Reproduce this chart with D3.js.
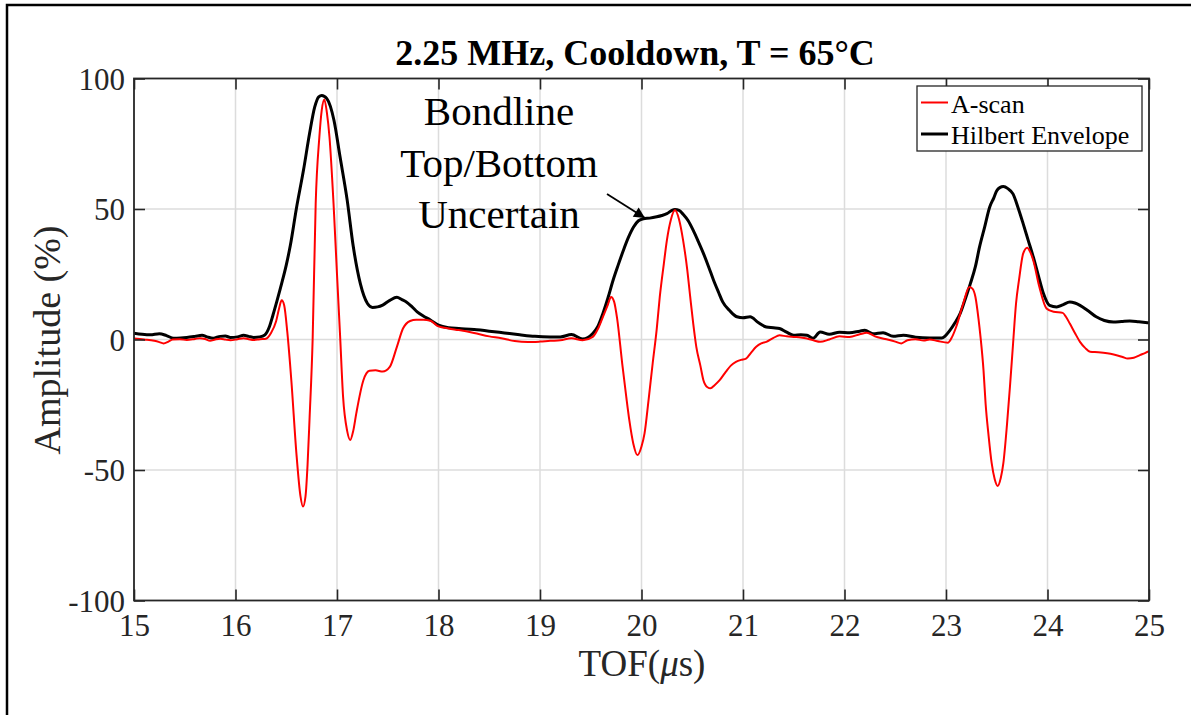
<!DOCTYPE html>
<html>
<head>
<meta charset="utf-8">
<script src="https://cdn.jsdelivr.net/npm/d3@7/dist/d3.min.js"></script>
<style>
  html, body { margin: 0; padding: 0; background: #fff; }
  svg { display: block; }
  text { font-family: "Liberation Serif", "Times New Roman", serif; }
</style>
</head>
<body>
<svg id="chart" width="1191" height="715"></svg>
<script>
// Time of flight (µs) and amplitude (%) for the Hilbert envelope
const envT = [15.00,15.08,15.16,15.25,15.32,15.39,15.46,15.52,15.60,15.67,15.72,15.78,15.85,15.90,15.95,16.02,16.08,16.13,16.18,16.24,16.29,16.33,16.37,16.41,16.455,16.50,16.54,16.60,16.67,16.73,16.78,16.82,16.85,16.90,16.97,17.03,17.10,17.16,17.23,17.30,17.35,17.40,17.45,17.52,17.59,17.64,17.68,17.74,17.79,17.85,17.92,18.00,18.10,18.20,18.35,18.50,18.65,18.80,18.95,19.10,19.20,19.31,19.42,19.52,19.57,19.62,19.67,19.72,19.77,19.82,19.87,19.92,19.97,20.02,20.08,20.15,20.20,20.25,20.30,20.33,20.37,20.41,20.46,20.51,20.56,20.61,20.66,20.71,20.76,20.80,20.87,20.94,21.00,21.07,21.15,21.23,21.30,21.36,21.43,21.50,21.57,21.63,21.69,21.76,21.85,21.95,22.05,22.15,22.20,22.28,22.38,22.48,22.58,22.70,22.84,22.96,23.04,23.09,23.14,23.19,23.24,23.29,23.33,23.38,23.43,23.47,23.50,23.53,23.565,23.61,23.66,23.71,23.76,23.81,23.86,23.91,23.96,24.02,24.09,24.15,24.22,24.27,24.32,24.40,24.48,24.56,24.65,24.73,24.81,24.90,25.00];
const envV = [2.4,2.0,1.8,2.2,1.5,0.5,0.6,0.8,1.2,1.6,1.0,0.5,1.2,1.3,0.8,1.0,1.6,1.2,0.8,1.0,1.8,4.5,9.5,15,21.5,28.5,36,50.2,64.9,79,89,93,93.5,92.3,84,70,53.5,35.7,21.4,13.8,12.3,12.5,13.2,15,16.2,15.3,14.5,12.5,10.6,9,7.5,5.5,4.5,4.2,3.8,3.2,2.5,1.8,1.2,1.0,1.0,1.9,0.2,2.3,5,10,16,22.7,28.5,34,39,43,45.5,46.3,46.5,47,47.5,48.2,49.5,49.8,49.5,48,45.5,41.8,37.5,33,28,22.7,18,14.4,11,8.7,8.3,8.7,6.5,4.8,4.5,4.2,2.8,1.6,1.8,1.6,0.5,2.9,2.0,2.8,2.6,3.2,3.5,2.2,2.6,1.2,1.6,0.9,0.6,0.6,3.6,6.5,10,15.5,21.4,28,35.4,43,50.7,54.2,57.0,58.2,58.6,57.8,55.8,50.5,44.4,38,31.6,24.5,17.6,13.1,12.5,13.3,14.4,14.0,13.1,11,8.7,7.3,6.7,6.9,7.1,6.8,6.4];

// Time of flight (µs) and amplitude (%) for the raw A-scan
const scanT = [15.00,15.10,15.20,15.25,15.29,15.34,15.38,15.45,15.52,15.60,15.65,15.70,15.75,15.80,15.85,15.90,15.95,16.02,16.08,16.13,16.18,16.24,16.30,16.35,16.40,16.43,16.455,16.48,16.51,16.55,16.60,16.64,16.665,16.69,16.71,16.73,16.76,16.79,16.826,16.85,16.875,16.90,16.926,16.966,17.00,17.031,17.06,17.10,17.13,17.16,17.19,17.26,17.32,17.38,17.45,17.52,17.59,17.65,17.72,17.78,17.85,17.92,18.00,18.10,18.20,18.35,18.50,18.62,18.75,18.88,19.00,19.10,19.20,19.31,19.42,19.52,19.57,19.62,19.67,19.70,19.73,19.76,19.81,19.85,19.88,19.92,19.96,20.00,20.03,20.07,20.11,20.15,20.18,20.22,20.25,20.29,20.33,20.37,20.41,20.45,20.48,20.51,20.54,20.58,20.61,20.65,20.68,20.72,20.77,20.83,20.88,20.93,20.98,21.03,21.08,21.13,21.18,21.23,21.30,21.36,21.43,21.50,21.57,21.63,21.70,21.76,21.85,21.95,22.05,22.15,22.22,22.30,22.40,22.50,22.56,22.62,22.70,22.78,22.84,22.92,23.02,23.06,23.10,23.17,23.23,23.26,23.29,23.32,23.34,23.37,23.39,23.42,23.45,23.48,23.51,23.54,23.565,23.60,23.63,23.66,23.69,23.72,23.76,23.80,23.83,23.86,23.92,23.99,24.06,24.15,24.18,24.22,24.27,24.32,24.37,24.42,24.50,24.55,24.62,24.68,24.74,24.79,24.85,24.91,24.96,25.00];
const scanV = [0.4,0.0,-0.5,-1.0,-1.5,-0.8,0.0,0.1,-0.2,0.2,0.5,0.2,-0.5,0.0,0.3,0.0,-0.3,0.1,0.5,0.1,-0.2,0.1,0.3,2.5,7,12,15,13,3,-15.6,-43.6,-60,-64,-60,-48,-30,0,52,77.5,88,92,87,77.5,52,25,1,-22,-35,-38.5,-35,-28.3,-15.6,-12,-11.8,-12.3,-10.5,-2.8,4.2,7.1,7.6,7.6,7.2,5,4.2,3.6,2.5,1.2,0.5,-0.6,-1.0,-0.8,-0.5,-0.3,0.5,-0.3,1.0,4,8.7,13.5,16.3,14.5,8,-9.2,-22,-30.9,-40,-44.3,-41,-36,-23,-9.2,4,16.3,29,38,46,49.5,46,38,27,16.3,6,-2.8,-10,-15.6,-18.3,-18.7,-17.5,-15.6,-12.4,-10,-8.6,-7.8,-7.3,-5,-2.8,-1.5,-0.9,0.6,1.6,1.2,1.0,0.8,0.4,-0.4,-0.9,0,1.2,1.0,2.0,2.6,1.2,0.2,-0.8,-1.5,-0.3,0.1,-0.4,0.0,-0.6,-1.2,1,4.8,13.8,20.1,19.5,16.3,8,1,-12,-24.5,-37,-47.4,-53.5,-56.1,-53,-47.4,-33,-18.1,-2,13.8,23,32.9,35.2,33.5,30.3,20.1,11.9,10.6,10.2,8.8,6.1,2.5,-0.9,-3.2,-4.7,-4.9,-5.1,-5.5,-6.0,-6.7,-7.3,-7.0,-6.0,-5.2,-4.5];

const xTicks = [15,16,17,18,19,20,21,22,23,24,25];
const yTicks = [-100,-50,0,50,100];
const titleText = "2.25 MHz, Cooldown, T = 65°C";
const legendLabels = ["A-scan", "Hilbert Envelope"];
const noteLines = ["Bondline", "Top/Bottom", "Uncertain"];

const svg = d3.select("#chart");
const W = 1191, H = 715;
const plotL = 134, plotR = 1149, plotT = 78.5, plotB = 600.5;

const axisColor = "#262626";
const x = d3.scaleLinear().domain([15, 25]).range([plotL, plotR]);
const y = d3.scaleLinear().domain([-100, 100]).range([plotB, plotT]);

// outer figure frame (only top and left edges fall inside the canvas)
svg.append("rect").attr("x", 7).attr("y", 5).attr("width", W + 20).attr("height", H + 20)
  .attr("fill", "#fff").attr("stroke", "#000").attr("stroke-width", 2.5);

// grid
const grid = svg.append("g").attr("stroke", "#dcdcdc").attr("stroke-width", 1.5);
xTicks.slice(1, -1).forEach(t => grid.append("line")
  .attr("x1", x(t)).attr("x2", x(t)).attr("y1", plotT).attr("y2", plotB));
yTicks.slice(1, -1).forEach(t => grid.append("line")
  .attr("x1", plotL).attr("x2", plotR).attr("y1", y(t)).attr("y2", y(t)));

// curves
const defs = svg.append("defs");
defs.append("clipPath").attr("id", "plotClip")
  .append("rect").attr("x", plotL).attr("y", plotT).attr("width", plotR - plotL).attr("height", plotB - plotT);

const line = d3.line().x(d => x(d[0])).y(d => y(d[1])).curve(d3.curveMonotoneX);
const plot = svg.append("g").attr("clip-path", "url(#plotClip)");
plot.append("path").datum(envT.map((t, i) => [t, envV[i]]))
  .attr("d", line).attr("fill", "none").attr("stroke", "#000").attr("stroke-width", 3)
  .attr("stroke-linejoin", "round");
plot.append("path").datum(scanT.map((t, i) => [t, scanV[i]]))
  .attr("d", line).attr("fill", "none").attr("stroke", "#ff0000").attr("stroke-width", 2)
  .attr("stroke-linejoin", "round");

// axes: ticks inward on all four sides, labels on bottom and left
const tickLen = 11;
const fmt = d => String(d);   // plain hyphen-minus for negative values
const axB = svg.append("g").attr("transform", `translate(0,${plotB})`)
  .call(d3.axisBottom(x).tickValues(xTicks).tickSize(-tickLen).tickPadding(13).tickFormat(fmt));
const axT = svg.append("g").attr("transform", `translate(0,${plotT})`)
  .call(d3.axisTop(x).tickValues(xTicks).tickSize(-tickLen).tickFormat(""));
const axL = svg.append("g").attr("transform", `translate(${plotL},0)`)
  .call(d3.axisLeft(y).tickValues(yTicks).tickSize(-tickLen).tickPadding(9).tickFormat(fmt));
const axR = svg.append("g").attr("transform", `translate(${plotR},0)`)
  .call(d3.axisRight(y).tickValues(yTicks).tickSize(-tickLen).tickFormat(""));
[axB, axT, axL, axR].forEach(a => {
  a.select(".domain").remove();
  a.selectAll(".tick line").attr("stroke", axisColor).attr("stroke-width", 1.6);
  a.selectAll(".tick text").attr("fill", axisColor)
    .style("font-family", '"Liberation Serif", serif').style("font-size", "31px");
});
axB.selectAll(".tick text").attr("dy", "0.71em");
axL.selectAll(".tick text").attr("dy", "0.34em");

svg.append("rect").attr("x", plotL).attr("y", plotT).attr("width", plotR - plotL).attr("height", plotB - plotT)
  .attr("fill", "none").attr("stroke", axisColor).attr("stroke-width", 1.8);

// title and axis labels
svg.append("text").attr("x", 635).attr("y", 65).attr("text-anchor", "middle")
  .attr("font-weight", "bold").attr("font-size", 36).attr("fill", "#000").text(titleText);

const xl = svg.append("text").attr("x", 642).attr("y", 676).attr("text-anchor", "middle")
  .attr("font-size", 37).attr("fill", axisColor);
xl.append("tspan").text("TOF(");
xl.append("tspan").attr("font-style", "italic").text("\u03bc");
xl.append("tspan").text("s)");

svg.append("text").attr("transform", "translate(60,340) rotate(-90)").attr("text-anchor", "middle")
  .attr("font-size", 38).attr("fill", axisColor).text("Amplitude (%)");

// legend
const lg = svg.append("g");
lg.append("rect").attr("x", 917).attr("y", 86).attr("width", 225).attr("height", 65)
  .attr("fill", "#fff").attr("stroke", axisColor).attr("stroke-width", 1.3);
const legendColors = ["#ff0000", "#000"];
const legendWidths = [2, 3];
legendLabels.forEach((lab, i) => {
  const yy = 102.5 + i * 31.5;
  lg.append("line").attr("x1", 921).attr("x2", 948).attr("y1", yy).attr("y2", yy)
    .attr("stroke", legendColors[i]).attr("stroke-width", legendWidths[i]);
  lg.append("text").attr("x", 951).attr("y", yy + 10).attr("font-size", 26).attr("fill", "#000").text(lab);
});

// annotation with arrow
noteLines.forEach((s, i) => {
  svg.append("text").attr("x", 499).attr("y", 125 + i * 51.5).attr("text-anchor", "middle")
    .attr("font-size", 41).attr("fill", "#000").text(s);
});
defs.append("marker").attr("id", "arrowHead").attr("viewBox", "0 0 10 10")
  .attr("refX", 10).attr("refY", 5).attr("markerWidth", 14).attr("markerHeight", 11)
  .attr("markerUnits", "userSpaceOnUse").attr("orient", "auto")
  .append("path").attr("d", "M0,0 L10,5 L0,10 Z").attr("fill", "#000");
svg.append("line").attr("x1", 607).attr("y1", 194).attr("x2", 645).attr("y2", 218)
  .attr("stroke", "#000").attr("stroke-width", 1.8).attr("marker-end", "url(#arrowHead)");
</script>
</body>
</html>
